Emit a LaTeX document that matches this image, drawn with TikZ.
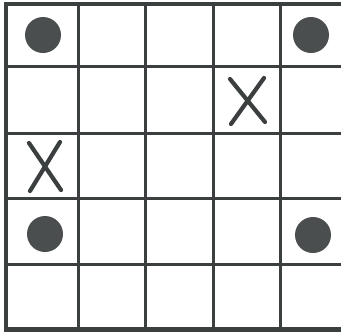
\documentclass[tikz,border=0pt]{standalone}
\definecolor{encre}{HTML}{3B3F3F}
\tikzset{
	grille/.style={draw=encre,line width=3pt},
	bord/.style={draw=encre,line width=4.4pt},
	pion/.style={fill=encre!92!white},
	croix/.style={draw=encre,line width=4.2pt,line cap=round}
}
\begin{document}
\begin{tikzpicture}[x=1pt,y=-1pt]
		\useasboundingbox[fill=white] (0,0) rectangle (341,333);
		\pgfmathsetmacro{\rayon}{18}
		% centres des cases marquées
		\coordinate(P1)at(43,35);
		\coordinate(P2)at(311,35);
		\coordinate(P3)at(45,234);
		\coordinate(P4)at(313,235);
		% lignes intérieures de la grille
		\foreach \xv in {78,145,213,280}{%
			\draw[grille] (\xv,4) -- (\xv,330);
			}
		\foreach \yv in {66,133,198,264}{%
			\draw[grille] (6,\yv) -- (341,\yv);
			}
		% bord (coupé à droite)
		\draw[bord] (345,4) -- (6.3,4) -- (6.3,329.5) -- (345,329.5);
		% pions
		\foreach \p in {P1,P2,P3,P4}{%
			\fill[pion] (\p) circle (\rayon);
			}
		% croix
		\draw[croix] (230,79) -- (265,122);
		\draw[croix] (264,78) -- (231,124);
		\draw[croix] (29,143) -- (61,190);
		\draw[croix] (60,142) -- (30,191);
	\end{tikzpicture}
\end{document}
